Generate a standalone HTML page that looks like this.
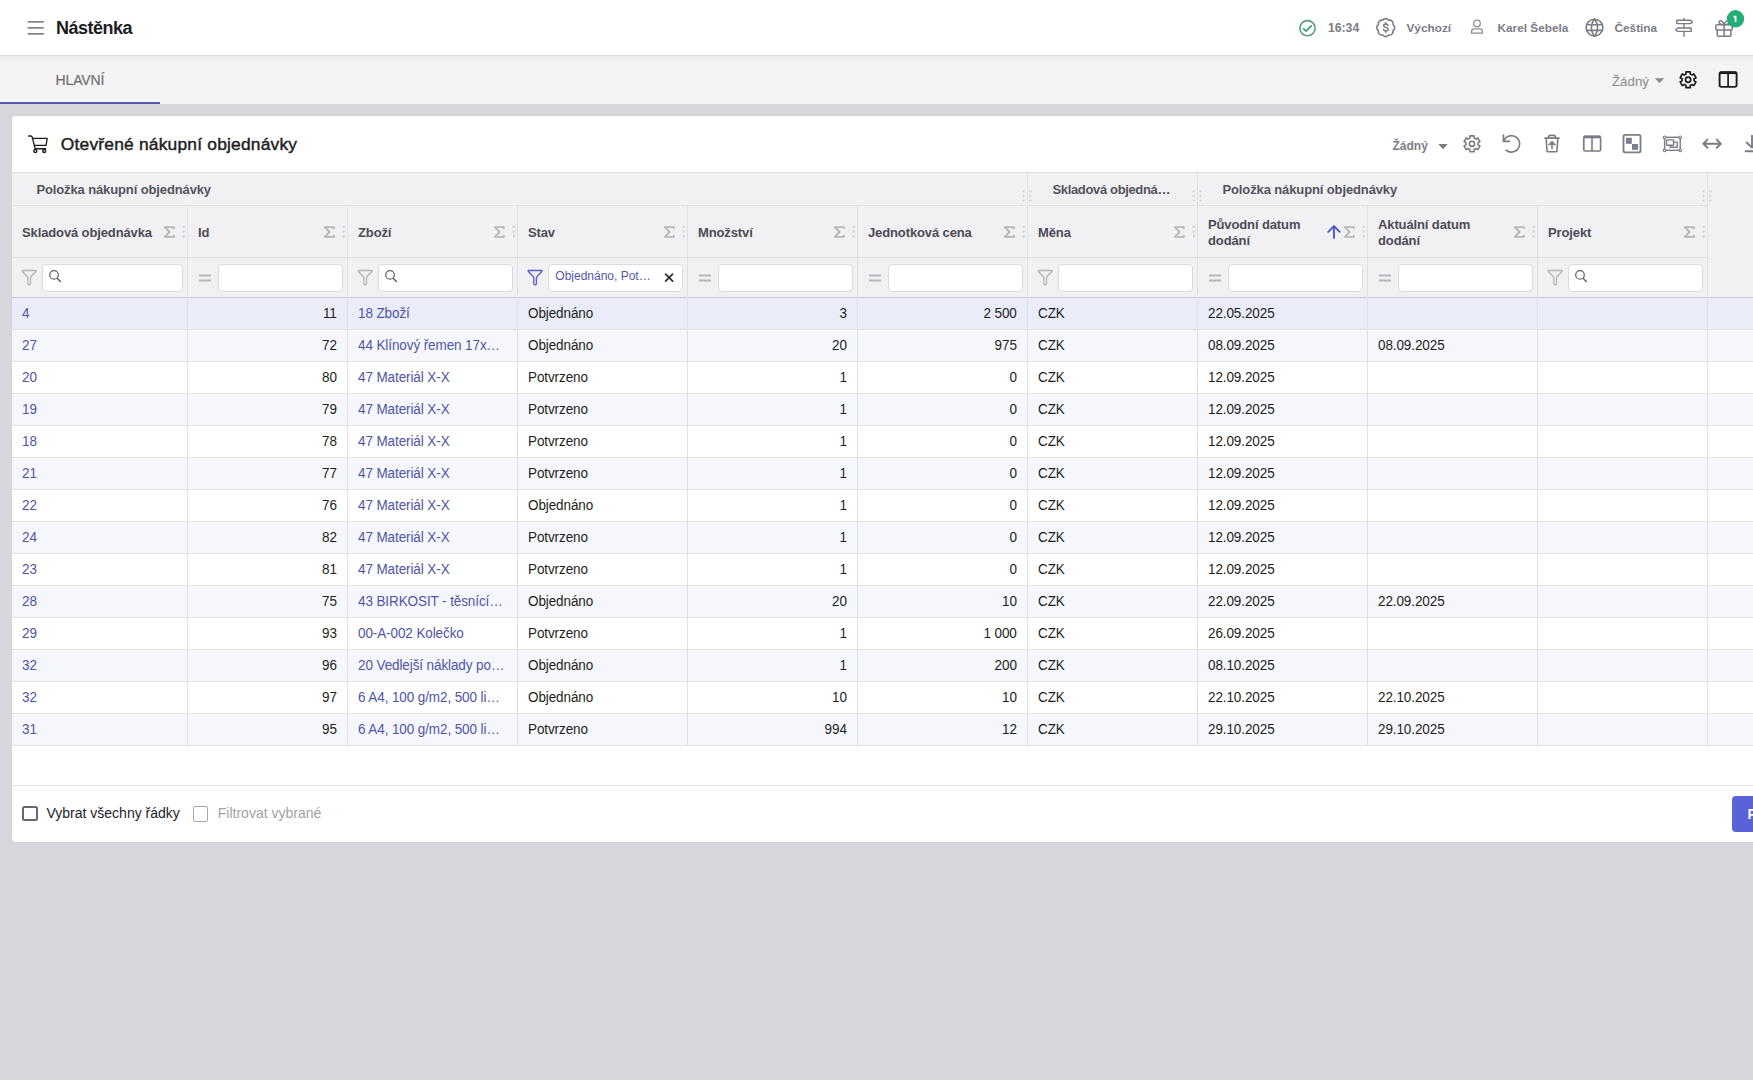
<!DOCTYPE html>
<html><head><meta charset="utf-8"><title>Nástěnka</title>
<style>
*{box-sizing:border-box;margin:0;padding:0}
html,body{width:1753px;height:1080px;overflow:hidden}
body{background:#d6d7dc;font-family:"Liberation Sans",sans-serif;position:relative}
.b{position:absolute}
.t{position:absolute;white-space:nowrap}
.inp{position:absolute;background:#fff;border:1px solid #dadae0;border-radius:4px}
svg{display:block}
</style></head><body>
<div class="b" style="left:0px;top:0px;width:1753px;height:55px;background:#ffffff;z-index:0"></div>
<div class="b" style="left:0px;top:55px;width:1753px;height:49px;background:#f4f4f4;"></div>
<div class="b" style="left:0px;top:55px;width:1753px;height:1px;background:#d8d8d8;"></div>
<div class="b" style="left:0px;top:56px;width:1753px;height:6px;background:linear-gradient(rgba(0,0,0,0.045),rgba(0,0,0,0));"></div>
<div class="b" style="left:0px;top:102px;width:160px;height:2px;background:#575aab;"></div>
<div class="b" style="left:12px;top:116px;width:1800px;height:726px;background:#fff;border-radius:4px;box-shadow:0 0 2px rgba(0,0,0,0.06)"></div>
<div class="b" style="left:12px;top:172px;width:1741px;height:125px;background:#f1f1f4;"></div>
<div class="b" style="left:12px;top:172px;width:1741px;height:1px;background:#dcdce1;"></div>
<div class="b" style="left:12px;top:205px;width:1695px;height:1px;background:#e0e0e5;"></div>
<div class="b" style="left:12px;top:257px;width:1695px;height:1px;background:#e0e0e5;"></div>
<div class="b" style="left:12px;top:297px;width:1741px;height:1px;background:#c9c9d0;"></div>
<div class="b" style="left:12px;top:298px;width:1741px;height:31px;background:#eaecf9;"></div>
<div class="b" style="left:12px;top:329px;width:1741px;height:1px;background:#e0e0e5;"></div>
<div class="b" style="left:12px;top:330px;width:1741px;height:31px;background:#f6f7fc;"></div>
<div class="b" style="left:12px;top:361px;width:1741px;height:1px;background:#e0e0e5;"></div>
<div class="b" style="left:12px;top:362px;width:1741px;height:31px;background:#ffffff;"></div>
<div class="b" style="left:12px;top:393px;width:1741px;height:1px;background:#e0e0e5;"></div>
<div class="b" style="left:12px;top:394px;width:1741px;height:31px;background:#f6f7fc;"></div>
<div class="b" style="left:12px;top:425px;width:1741px;height:1px;background:#e0e0e5;"></div>
<div class="b" style="left:12px;top:426px;width:1741px;height:31px;background:#ffffff;"></div>
<div class="b" style="left:12px;top:457px;width:1741px;height:1px;background:#e0e0e5;"></div>
<div class="b" style="left:12px;top:458px;width:1741px;height:31px;background:#f6f7fc;"></div>
<div class="b" style="left:12px;top:489px;width:1741px;height:1px;background:#e0e0e5;"></div>
<div class="b" style="left:12px;top:490px;width:1741px;height:31px;background:#ffffff;"></div>
<div class="b" style="left:12px;top:521px;width:1741px;height:1px;background:#e0e0e5;"></div>
<div class="b" style="left:12px;top:522px;width:1741px;height:31px;background:#f6f7fc;"></div>
<div class="b" style="left:12px;top:553px;width:1741px;height:1px;background:#e0e0e5;"></div>
<div class="b" style="left:12px;top:554px;width:1741px;height:31px;background:#ffffff;"></div>
<div class="b" style="left:12px;top:585px;width:1741px;height:1px;background:#e0e0e5;"></div>
<div class="b" style="left:12px;top:586px;width:1741px;height:31px;background:#f6f7fc;"></div>
<div class="b" style="left:12px;top:617px;width:1741px;height:1px;background:#e0e0e5;"></div>
<div class="b" style="left:12px;top:618px;width:1741px;height:31px;background:#ffffff;"></div>
<div class="b" style="left:12px;top:649px;width:1741px;height:1px;background:#e0e0e5;"></div>
<div class="b" style="left:12px;top:650px;width:1741px;height:31px;background:#f6f7fc;"></div>
<div class="b" style="left:12px;top:681px;width:1741px;height:1px;background:#e0e0e5;"></div>
<div class="b" style="left:12px;top:682px;width:1741px;height:31px;background:#ffffff;"></div>
<div class="b" style="left:12px;top:713px;width:1741px;height:1px;background:#e0e0e5;"></div>
<div class="b" style="left:12px;top:714px;width:1741px;height:31px;background:#f6f7fc;"></div>
<div class="b" style="left:12px;top:745px;width:1741px;height:1px;background:#e0e0e5;"></div>
<div class="b" style="left:1027px;top:173px;width:1px;height:572px;background:#e0e0e5;"></div>
<div class="b" style="left:1197px;top:173px;width:1px;height:572px;background:#e0e0e5;"></div>
<div class="b" style="left:1707px;top:173px;width:1px;height:572px;background:#e0e0e5;"></div>
<div class="b" style="left:187px;top:206px;width:1px;height:539px;background:#e0e0e5;"></div>
<div class="b" style="left:347px;top:206px;width:1px;height:539px;background:#e0e0e5;"></div>
<div class="b" style="left:517px;top:206px;width:1px;height:539px;background:#e0e0e5;"></div>
<div class="b" style="left:687px;top:206px;width:1px;height:539px;background:#e0e0e5;"></div>
<div class="b" style="left:857px;top:206px;width:1px;height:539px;background:#e0e0e5;"></div>
<div class="b" style="left:1367px;top:206px;width:1px;height:539px;background:#e0e0e5;"></div>
<div class="b" style="left:1537px;top:206px;width:1px;height:539px;background:#e0e0e5;"></div>
<div class="b" style="left:12px;top:785px;width:1741px;height:1px;background:#e4e4e8;"></div>
<div class="t " style="left:56.00px;top:18.66px;font-size:18px;line-height:18px;font-weight:bold;color:#1d1d1f;letter-spacing:-0.5px">Nástěnka</div>
<div class="t " style="left:1328.00px;top:22.37px;font-size:12.2px;line-height:12.2px;font-weight:bold;color:#7b7c85">16:34</div>
<div class="t " style="left:1406.50px;top:22.71px;font-size:11.8px;line-height:11.8px;font-weight:bold;color:#7b7c85">Výchozí</div>
<div class="t " style="left:1497.50px;top:22.71px;font-size:11.8px;line-height:11.8px;font-weight:bold;color:#7b7c85">Karel Šebela</div>
<div class="t " style="left:1614.50px;top:22.71px;font-size:11.8px;line-height:11.8px;font-weight:bold;color:#7b7c85">Čeština</div>
<div class="t " style="left:55.60px;top:72.75px;font-size:14px;line-height:14px;color:#707070;letter-spacing:-0.15px;-webkit-text-stroke:0.2px #707070">HLAVNÍ</div>
<div class="t " style="left:1612.00px;top:74.74px;font-size:13.3px;line-height:13.3px;color:#8a8a8c">Žádný</div>
<div class="t " style="left:60.80px;top:135.57px;font-size:17.4px;line-height:17.4px;color:#1f1f1f;letter-spacing:0.2px;-webkit-text-stroke:0.45px #1f1f1f">Otevřené nákupní objednávky</div>
<div class="t " style="left:1392.50px;top:139.94px;font-size:12px;line-height:12px;font-weight:bold;color:#7b7c85">Žádný</div>
<div class="t " style="left:36.40px;top:183.10px;font-size:13px;line-height:13px;font-weight:bold;color:#53535c;letter-spacing:-0.12px;transform:scaleY(1.05);transform-origin:0 11.00px">Položka nákupní objednávky</div>
<div class="t " style="left:1222.50px;top:183.10px;font-size:13px;line-height:13px;font-weight:bold;color:#53535c;letter-spacing:-0.12px;transform:scaleY(1.05);transform-origin:0 11.00px">Položka nákupní objednávky</div>
<div class="t " style="left:1052.50px;top:183.10px;font-size:13px;line-height:13px;font-weight:bold;color:#53535c;letter-spacing:-0.35px;transform:scaleY(1.05);transform-origin:0 11.00px">Skladová objedná…</div>
<div class="t " style="left:22.00px;top:225.70px;font-size:13px;line-height:13px;font-weight:bold;color:#4c4c55;letter-spacing:-0.12px;transform:scaleY(1.05);transform-origin:0 11.00px">Skladová objednávka</div>
<div class="t " style="left:198.00px;top:225.70px;font-size:13px;line-height:13px;font-weight:bold;color:#4c4c55;letter-spacing:-0.12px;transform:scaleY(1.05);transform-origin:0 11.00px">Id</div>
<div class="t " style="left:358.00px;top:225.70px;font-size:13px;line-height:13px;font-weight:bold;color:#4c4c55;letter-spacing:-0.12px;transform:scaleY(1.05);transform-origin:0 11.00px">Zboží</div>
<div class="t " style="left:528.00px;top:225.70px;font-size:13px;line-height:13px;font-weight:bold;color:#4c4c55;letter-spacing:-0.12px;transform:scaleY(1.05);transform-origin:0 11.00px">Stav</div>
<div class="t " style="left:698.00px;top:225.70px;font-size:13px;line-height:13px;font-weight:bold;color:#4c4c55;letter-spacing:-0.12px;transform:scaleY(1.05);transform-origin:0 11.00px">Množství</div>
<div class="t " style="left:868.00px;top:225.70px;font-size:13px;line-height:13px;font-weight:bold;color:#4c4c55;letter-spacing:-0.12px;transform:scaleY(1.05);transform-origin:0 11.00px">Jednotková cena</div>
<div class="t " style="left:1038.00px;top:225.70px;font-size:13px;line-height:13px;font-weight:bold;color:#4c4c55;letter-spacing:-0.12px;transform:scaleY(1.05);transform-origin:0 11.00px">Měna</div>
<div class="t " style="left:1208.00px;top:217.50px;font-size:13px;line-height:13px;font-weight:bold;color:#4c4c55;letter-spacing:-0.12px;transform:scaleY(1.05);transform-origin:0 11.00px">Původní datum</div>
<div class="t " style="left:1208.00px;top:233.50px;font-size:13px;line-height:13px;font-weight:bold;color:#4c4c55;letter-spacing:-0.12px;transform:scaleY(1.05);transform-origin:0 11.00px">dodání</div>
<div class="t " style="left:1378.00px;top:217.50px;font-size:13px;line-height:13px;font-weight:bold;color:#4c4c55;letter-spacing:-0.12px;transform:scaleY(1.05);transform-origin:0 11.00px">Aktuální datum</div>
<div class="t " style="left:1378.00px;top:233.50px;font-size:13px;line-height:13px;font-weight:bold;color:#4c4c55;letter-spacing:-0.12px;transform:scaleY(1.05);transform-origin:0 11.00px">dodání</div>
<div class="t " style="left:1548.00px;top:225.70px;font-size:13px;line-height:13px;font-weight:bold;color:#4c4c55;letter-spacing:-0.12px;transform:scaleY(1.05);transform-origin:0 11.00px">Projekt</div>
<div class="inp" style="left:42px;top:264px;width:141px;height:28px"></div>
<div class="inp" style="left:218px;top:264px;width:125px;height:28px"></div>
<div class="inp" style="left:378px;top:264px;width:135px;height:28px"></div>
<div class="inp" style="left:548px;top:264px;width:135px;height:28px"></div>
<div class="t " style="left:555.30px;top:270.44px;font-size:12px;line-height:12px;color:#5358b0;width:96.0px;overflow:hidden;text-overflow:ellipsis">Objednáno, Potvrzeno</div>
<div class="inp" style="left:718px;top:264px;width:135px;height:28px"></div>
<div class="inp" style="left:888px;top:264px;width:135px;height:28px"></div>
<div class="inp" style="left:1058px;top:264px;width:135px;height:28px"></div>
<div class="inp" style="left:1228px;top:264px;width:135px;height:28px"></div>
<div class="inp" style="left:1398px;top:264px;width:135px;height:28px"></div>
<div class="inp" style="left:1568px;top:264px;width:135px;height:28px"></div>
<div class="t " style="left:22.00px;top:306.77px;font-size:13.5px;line-height:13.5px;color:#4e55a6;letter-spacing:-0.1px;transform:scaleY(1.07);transform-origin:0 11.43px">4</div>
<div class="t " style="left:186.80px;top:306.77px;width:150.00px;text-align:right;font-size:13.5px;line-height:13.5px;color:#1e1e20;letter-spacing:-0.1px;transform:scaleY(1.07);transform-origin:0 11.43px">11</div>
<div class="t " style="left:358.00px;top:306.77px;font-size:13.5px;line-height:13.5px;color:#4e55a6;letter-spacing:-0.1px;width:148.0px;overflow:hidden;text-overflow:ellipsis;transform:scaleY(1.07);transform-origin:0 11.43px">18 Zboží</div>
<div class="t " style="left:528.00px;top:306.77px;font-size:13.5px;line-height:13.5px;color:#1e1e20;letter-spacing:-0.1px;transform:scaleY(1.07);transform-origin:0 11.43px">Objednáno</div>
<div class="t " style="left:696.80px;top:306.77px;width:150.00px;text-align:right;font-size:13.5px;line-height:13.5px;color:#1e1e20;letter-spacing:-0.1px;transform:scaleY(1.07);transform-origin:0 11.43px">3</div>
<div class="t " style="left:866.80px;top:306.77px;width:150.00px;text-align:right;font-size:13.5px;line-height:13.5px;color:#1e1e20;letter-spacing:-0.1px;transform:scaleY(1.07);transform-origin:0 11.43px">2 500</div>
<div class="t " style="left:1038.00px;top:306.77px;font-size:13.5px;line-height:13.5px;color:#1e1e20;letter-spacing:-0.1px;transform:scaleY(1.07);transform-origin:0 11.43px">CZK</div>
<div class="t " style="left:1208.00px;top:306.77px;font-size:13.5px;line-height:13.5px;color:#1e1e20;letter-spacing:-0.1px;transform:scaleY(1.07);transform-origin:0 11.43px">22.05.2025</div>
<div class="t " style="left:22.00px;top:338.77px;font-size:13.5px;line-height:13.5px;color:#4e55a6;letter-spacing:-0.1px;transform:scaleY(1.07);transform-origin:0 11.43px">27</div>
<div class="t " style="left:186.80px;top:338.77px;width:150.00px;text-align:right;font-size:13.5px;line-height:13.5px;color:#1e1e20;letter-spacing:-0.1px;transform:scaleY(1.07);transform-origin:0 11.43px">72</div>
<div class="t " style="left:358.00px;top:338.77px;font-size:13.5px;line-height:13.5px;color:#4e55a6;letter-spacing:-0.1px;width:148.0px;overflow:hidden;text-overflow:ellipsis;transform:scaleY(1.07);transform-origin:0 11.43px">44 Klínový řemen 17x1000 Li</div>
<div class="t " style="left:528.00px;top:338.77px;font-size:13.5px;line-height:13.5px;color:#1e1e20;letter-spacing:-0.1px;transform:scaleY(1.07);transform-origin:0 11.43px">Objednáno</div>
<div class="t " style="left:696.80px;top:338.77px;width:150.00px;text-align:right;font-size:13.5px;line-height:13.5px;color:#1e1e20;letter-spacing:-0.1px;transform:scaleY(1.07);transform-origin:0 11.43px">20</div>
<div class="t " style="left:866.80px;top:338.77px;width:150.00px;text-align:right;font-size:13.5px;line-height:13.5px;color:#1e1e20;letter-spacing:-0.1px;transform:scaleY(1.07);transform-origin:0 11.43px">975</div>
<div class="t " style="left:1038.00px;top:338.77px;font-size:13.5px;line-height:13.5px;color:#1e1e20;letter-spacing:-0.1px;transform:scaleY(1.07);transform-origin:0 11.43px">CZK</div>
<div class="t " style="left:1208.00px;top:338.77px;font-size:13.5px;line-height:13.5px;color:#1e1e20;letter-spacing:-0.1px;transform:scaleY(1.07);transform-origin:0 11.43px">08.09.2025</div>
<div class="t " style="left:1378.00px;top:338.77px;font-size:13.5px;line-height:13.5px;color:#1e1e20;letter-spacing:-0.1px;transform:scaleY(1.07);transform-origin:0 11.43px">08.09.2025</div>
<div class="t " style="left:22.00px;top:370.77px;font-size:13.5px;line-height:13.5px;color:#4e55a6;letter-spacing:-0.1px;transform:scaleY(1.07);transform-origin:0 11.43px">20</div>
<div class="t " style="left:186.80px;top:370.77px;width:150.00px;text-align:right;font-size:13.5px;line-height:13.5px;color:#1e1e20;letter-spacing:-0.1px;transform:scaleY(1.07);transform-origin:0 11.43px">80</div>
<div class="t " style="left:358.00px;top:370.77px;font-size:13.5px;line-height:13.5px;color:#4e55a6;letter-spacing:-0.1px;width:148.0px;overflow:hidden;text-overflow:ellipsis;transform:scaleY(1.07);transform-origin:0 11.43px">47 Materiál X-X</div>
<div class="t " style="left:528.00px;top:370.77px;font-size:13.5px;line-height:13.5px;color:#1e1e20;letter-spacing:-0.1px;transform:scaleY(1.07);transform-origin:0 11.43px">Potvrzeno</div>
<div class="t " style="left:696.80px;top:370.77px;width:150.00px;text-align:right;font-size:13.5px;line-height:13.5px;color:#1e1e20;letter-spacing:-0.1px;transform:scaleY(1.07);transform-origin:0 11.43px">1</div>
<div class="t " style="left:866.80px;top:370.77px;width:150.00px;text-align:right;font-size:13.5px;line-height:13.5px;color:#1e1e20;letter-spacing:-0.1px;transform:scaleY(1.07);transform-origin:0 11.43px">0</div>
<div class="t " style="left:1038.00px;top:370.77px;font-size:13.5px;line-height:13.5px;color:#1e1e20;letter-spacing:-0.1px;transform:scaleY(1.07);transform-origin:0 11.43px">CZK</div>
<div class="t " style="left:1208.00px;top:370.77px;font-size:13.5px;line-height:13.5px;color:#1e1e20;letter-spacing:-0.1px;transform:scaleY(1.07);transform-origin:0 11.43px">12.09.2025</div>
<div class="t " style="left:22.00px;top:402.77px;font-size:13.5px;line-height:13.5px;color:#4e55a6;letter-spacing:-0.1px;transform:scaleY(1.07);transform-origin:0 11.43px">19</div>
<div class="t " style="left:186.80px;top:402.77px;width:150.00px;text-align:right;font-size:13.5px;line-height:13.5px;color:#1e1e20;letter-spacing:-0.1px;transform:scaleY(1.07);transform-origin:0 11.43px">79</div>
<div class="t " style="left:358.00px;top:402.77px;font-size:13.5px;line-height:13.5px;color:#4e55a6;letter-spacing:-0.1px;width:148.0px;overflow:hidden;text-overflow:ellipsis;transform:scaleY(1.07);transform-origin:0 11.43px">47 Materiál X-X</div>
<div class="t " style="left:528.00px;top:402.77px;font-size:13.5px;line-height:13.5px;color:#1e1e20;letter-spacing:-0.1px;transform:scaleY(1.07);transform-origin:0 11.43px">Potvrzeno</div>
<div class="t " style="left:696.80px;top:402.77px;width:150.00px;text-align:right;font-size:13.5px;line-height:13.5px;color:#1e1e20;letter-spacing:-0.1px;transform:scaleY(1.07);transform-origin:0 11.43px">1</div>
<div class="t " style="left:866.80px;top:402.77px;width:150.00px;text-align:right;font-size:13.5px;line-height:13.5px;color:#1e1e20;letter-spacing:-0.1px;transform:scaleY(1.07);transform-origin:0 11.43px">0</div>
<div class="t " style="left:1038.00px;top:402.77px;font-size:13.5px;line-height:13.5px;color:#1e1e20;letter-spacing:-0.1px;transform:scaleY(1.07);transform-origin:0 11.43px">CZK</div>
<div class="t " style="left:1208.00px;top:402.77px;font-size:13.5px;line-height:13.5px;color:#1e1e20;letter-spacing:-0.1px;transform:scaleY(1.07);transform-origin:0 11.43px">12.09.2025</div>
<div class="t " style="left:22.00px;top:434.77px;font-size:13.5px;line-height:13.5px;color:#4e55a6;letter-spacing:-0.1px;transform:scaleY(1.07);transform-origin:0 11.43px">18</div>
<div class="t " style="left:186.80px;top:434.77px;width:150.00px;text-align:right;font-size:13.5px;line-height:13.5px;color:#1e1e20;letter-spacing:-0.1px;transform:scaleY(1.07);transform-origin:0 11.43px">78</div>
<div class="t " style="left:358.00px;top:434.77px;font-size:13.5px;line-height:13.5px;color:#4e55a6;letter-spacing:-0.1px;width:148.0px;overflow:hidden;text-overflow:ellipsis;transform:scaleY(1.07);transform-origin:0 11.43px">47 Materiál X-X</div>
<div class="t " style="left:528.00px;top:434.77px;font-size:13.5px;line-height:13.5px;color:#1e1e20;letter-spacing:-0.1px;transform:scaleY(1.07);transform-origin:0 11.43px">Potvrzeno</div>
<div class="t " style="left:696.80px;top:434.77px;width:150.00px;text-align:right;font-size:13.5px;line-height:13.5px;color:#1e1e20;letter-spacing:-0.1px;transform:scaleY(1.07);transform-origin:0 11.43px">1</div>
<div class="t " style="left:866.80px;top:434.77px;width:150.00px;text-align:right;font-size:13.5px;line-height:13.5px;color:#1e1e20;letter-spacing:-0.1px;transform:scaleY(1.07);transform-origin:0 11.43px">0</div>
<div class="t " style="left:1038.00px;top:434.77px;font-size:13.5px;line-height:13.5px;color:#1e1e20;letter-spacing:-0.1px;transform:scaleY(1.07);transform-origin:0 11.43px">CZK</div>
<div class="t " style="left:1208.00px;top:434.77px;font-size:13.5px;line-height:13.5px;color:#1e1e20;letter-spacing:-0.1px;transform:scaleY(1.07);transform-origin:0 11.43px">12.09.2025</div>
<div class="t " style="left:22.00px;top:466.77px;font-size:13.5px;line-height:13.5px;color:#4e55a6;letter-spacing:-0.1px;transform:scaleY(1.07);transform-origin:0 11.43px">21</div>
<div class="t " style="left:186.80px;top:466.77px;width:150.00px;text-align:right;font-size:13.5px;line-height:13.5px;color:#1e1e20;letter-spacing:-0.1px;transform:scaleY(1.07);transform-origin:0 11.43px">77</div>
<div class="t " style="left:358.00px;top:466.77px;font-size:13.5px;line-height:13.5px;color:#4e55a6;letter-spacing:-0.1px;width:148.0px;overflow:hidden;text-overflow:ellipsis;transform:scaleY(1.07);transform-origin:0 11.43px">47 Materiál X-X</div>
<div class="t " style="left:528.00px;top:466.77px;font-size:13.5px;line-height:13.5px;color:#1e1e20;letter-spacing:-0.1px;transform:scaleY(1.07);transform-origin:0 11.43px">Potvrzeno</div>
<div class="t " style="left:696.80px;top:466.77px;width:150.00px;text-align:right;font-size:13.5px;line-height:13.5px;color:#1e1e20;letter-spacing:-0.1px;transform:scaleY(1.07);transform-origin:0 11.43px">1</div>
<div class="t " style="left:866.80px;top:466.77px;width:150.00px;text-align:right;font-size:13.5px;line-height:13.5px;color:#1e1e20;letter-spacing:-0.1px;transform:scaleY(1.07);transform-origin:0 11.43px">0</div>
<div class="t " style="left:1038.00px;top:466.77px;font-size:13.5px;line-height:13.5px;color:#1e1e20;letter-spacing:-0.1px;transform:scaleY(1.07);transform-origin:0 11.43px">CZK</div>
<div class="t " style="left:1208.00px;top:466.77px;font-size:13.5px;line-height:13.5px;color:#1e1e20;letter-spacing:-0.1px;transform:scaleY(1.07);transform-origin:0 11.43px">12.09.2025</div>
<div class="t " style="left:22.00px;top:498.77px;font-size:13.5px;line-height:13.5px;color:#4e55a6;letter-spacing:-0.1px;transform:scaleY(1.07);transform-origin:0 11.43px">22</div>
<div class="t " style="left:186.80px;top:498.77px;width:150.00px;text-align:right;font-size:13.5px;line-height:13.5px;color:#1e1e20;letter-spacing:-0.1px;transform:scaleY(1.07);transform-origin:0 11.43px">76</div>
<div class="t " style="left:358.00px;top:498.77px;font-size:13.5px;line-height:13.5px;color:#4e55a6;letter-spacing:-0.1px;width:148.0px;overflow:hidden;text-overflow:ellipsis;transform:scaleY(1.07);transform-origin:0 11.43px">47 Materiál X-X</div>
<div class="t " style="left:528.00px;top:498.77px;font-size:13.5px;line-height:13.5px;color:#1e1e20;letter-spacing:-0.1px;transform:scaleY(1.07);transform-origin:0 11.43px">Objednáno</div>
<div class="t " style="left:696.80px;top:498.77px;width:150.00px;text-align:right;font-size:13.5px;line-height:13.5px;color:#1e1e20;letter-spacing:-0.1px;transform:scaleY(1.07);transform-origin:0 11.43px">1</div>
<div class="t " style="left:866.80px;top:498.77px;width:150.00px;text-align:right;font-size:13.5px;line-height:13.5px;color:#1e1e20;letter-spacing:-0.1px;transform:scaleY(1.07);transform-origin:0 11.43px">0</div>
<div class="t " style="left:1038.00px;top:498.77px;font-size:13.5px;line-height:13.5px;color:#1e1e20;letter-spacing:-0.1px;transform:scaleY(1.07);transform-origin:0 11.43px">CZK</div>
<div class="t " style="left:1208.00px;top:498.77px;font-size:13.5px;line-height:13.5px;color:#1e1e20;letter-spacing:-0.1px;transform:scaleY(1.07);transform-origin:0 11.43px">12.09.2025</div>
<div class="t " style="left:22.00px;top:530.77px;font-size:13.5px;line-height:13.5px;color:#4e55a6;letter-spacing:-0.1px;transform:scaleY(1.07);transform-origin:0 11.43px">24</div>
<div class="t " style="left:186.80px;top:530.77px;width:150.00px;text-align:right;font-size:13.5px;line-height:13.5px;color:#1e1e20;letter-spacing:-0.1px;transform:scaleY(1.07);transform-origin:0 11.43px">82</div>
<div class="t " style="left:358.00px;top:530.77px;font-size:13.5px;line-height:13.5px;color:#4e55a6;letter-spacing:-0.1px;width:148.0px;overflow:hidden;text-overflow:ellipsis;transform:scaleY(1.07);transform-origin:0 11.43px">47 Materiál X-X</div>
<div class="t " style="left:528.00px;top:530.77px;font-size:13.5px;line-height:13.5px;color:#1e1e20;letter-spacing:-0.1px;transform:scaleY(1.07);transform-origin:0 11.43px">Potvrzeno</div>
<div class="t " style="left:696.80px;top:530.77px;width:150.00px;text-align:right;font-size:13.5px;line-height:13.5px;color:#1e1e20;letter-spacing:-0.1px;transform:scaleY(1.07);transform-origin:0 11.43px">1</div>
<div class="t " style="left:866.80px;top:530.77px;width:150.00px;text-align:right;font-size:13.5px;line-height:13.5px;color:#1e1e20;letter-spacing:-0.1px;transform:scaleY(1.07);transform-origin:0 11.43px">0</div>
<div class="t " style="left:1038.00px;top:530.77px;font-size:13.5px;line-height:13.5px;color:#1e1e20;letter-spacing:-0.1px;transform:scaleY(1.07);transform-origin:0 11.43px">CZK</div>
<div class="t " style="left:1208.00px;top:530.77px;font-size:13.5px;line-height:13.5px;color:#1e1e20;letter-spacing:-0.1px;transform:scaleY(1.07);transform-origin:0 11.43px">12.09.2025</div>
<div class="t " style="left:22.00px;top:562.77px;font-size:13.5px;line-height:13.5px;color:#4e55a6;letter-spacing:-0.1px;transform:scaleY(1.07);transform-origin:0 11.43px">23</div>
<div class="t " style="left:186.80px;top:562.77px;width:150.00px;text-align:right;font-size:13.5px;line-height:13.5px;color:#1e1e20;letter-spacing:-0.1px;transform:scaleY(1.07);transform-origin:0 11.43px">81</div>
<div class="t " style="left:358.00px;top:562.77px;font-size:13.5px;line-height:13.5px;color:#4e55a6;letter-spacing:-0.1px;width:148.0px;overflow:hidden;text-overflow:ellipsis;transform:scaleY(1.07);transform-origin:0 11.43px">47 Materiál X-X</div>
<div class="t " style="left:528.00px;top:562.77px;font-size:13.5px;line-height:13.5px;color:#1e1e20;letter-spacing:-0.1px;transform:scaleY(1.07);transform-origin:0 11.43px">Potvrzeno</div>
<div class="t " style="left:696.80px;top:562.77px;width:150.00px;text-align:right;font-size:13.5px;line-height:13.5px;color:#1e1e20;letter-spacing:-0.1px;transform:scaleY(1.07);transform-origin:0 11.43px">1</div>
<div class="t " style="left:866.80px;top:562.77px;width:150.00px;text-align:right;font-size:13.5px;line-height:13.5px;color:#1e1e20;letter-spacing:-0.1px;transform:scaleY(1.07);transform-origin:0 11.43px">0</div>
<div class="t " style="left:1038.00px;top:562.77px;font-size:13.5px;line-height:13.5px;color:#1e1e20;letter-spacing:-0.1px;transform:scaleY(1.07);transform-origin:0 11.43px">CZK</div>
<div class="t " style="left:1208.00px;top:562.77px;font-size:13.5px;line-height:13.5px;color:#1e1e20;letter-spacing:-0.1px;transform:scaleY(1.07);transform-origin:0 11.43px">12.09.2025</div>
<div class="t " style="left:22.00px;top:594.77px;font-size:13.5px;line-height:13.5px;color:#4e55a6;letter-spacing:-0.1px;transform:scaleY(1.07);transform-origin:0 11.43px">28</div>
<div class="t " style="left:186.80px;top:594.77px;width:150.00px;text-align:right;font-size:13.5px;line-height:13.5px;color:#1e1e20;letter-spacing:-0.1px;transform:scaleY(1.07);transform-origin:0 11.43px">75</div>
<div class="t " style="left:358.00px;top:594.77px;font-size:13.5px;line-height:13.5px;color:#4e55a6;letter-spacing:-0.1px;width:148.0px;overflow:hidden;text-overflow:ellipsis;transform:scaleY(1.07);transform-origin:0 11.43px">43 BIRKOSIT - těsnící tmel</div>
<div class="t " style="left:528.00px;top:594.77px;font-size:13.5px;line-height:13.5px;color:#1e1e20;letter-spacing:-0.1px;transform:scaleY(1.07);transform-origin:0 11.43px">Objednáno</div>
<div class="t " style="left:696.80px;top:594.77px;width:150.00px;text-align:right;font-size:13.5px;line-height:13.5px;color:#1e1e20;letter-spacing:-0.1px;transform:scaleY(1.07);transform-origin:0 11.43px">20</div>
<div class="t " style="left:866.80px;top:594.77px;width:150.00px;text-align:right;font-size:13.5px;line-height:13.5px;color:#1e1e20;letter-spacing:-0.1px;transform:scaleY(1.07);transform-origin:0 11.43px">10</div>
<div class="t " style="left:1038.00px;top:594.77px;font-size:13.5px;line-height:13.5px;color:#1e1e20;letter-spacing:-0.1px;transform:scaleY(1.07);transform-origin:0 11.43px">CZK</div>
<div class="t " style="left:1208.00px;top:594.77px;font-size:13.5px;line-height:13.5px;color:#1e1e20;letter-spacing:-0.1px;transform:scaleY(1.07);transform-origin:0 11.43px">22.09.2025</div>
<div class="t " style="left:1378.00px;top:594.77px;font-size:13.5px;line-height:13.5px;color:#1e1e20;letter-spacing:-0.1px;transform:scaleY(1.07);transform-origin:0 11.43px">22.09.2025</div>
<div class="t " style="left:22.00px;top:626.77px;font-size:13.5px;line-height:13.5px;color:#4e55a6;letter-spacing:-0.1px;transform:scaleY(1.07);transform-origin:0 11.43px">29</div>
<div class="t " style="left:186.80px;top:626.77px;width:150.00px;text-align:right;font-size:13.5px;line-height:13.5px;color:#1e1e20;letter-spacing:-0.1px;transform:scaleY(1.07);transform-origin:0 11.43px">93</div>
<div class="t " style="left:358.00px;top:626.77px;font-size:13.5px;line-height:13.5px;color:#4e55a6;letter-spacing:-0.1px;width:148.0px;overflow:hidden;text-overflow:ellipsis;transform:scaleY(1.07);transform-origin:0 11.43px">00-A-002 Kolečko</div>
<div class="t " style="left:528.00px;top:626.77px;font-size:13.5px;line-height:13.5px;color:#1e1e20;letter-spacing:-0.1px;transform:scaleY(1.07);transform-origin:0 11.43px">Potvrzeno</div>
<div class="t " style="left:696.80px;top:626.77px;width:150.00px;text-align:right;font-size:13.5px;line-height:13.5px;color:#1e1e20;letter-spacing:-0.1px;transform:scaleY(1.07);transform-origin:0 11.43px">1</div>
<div class="t " style="left:866.80px;top:626.77px;width:150.00px;text-align:right;font-size:13.5px;line-height:13.5px;color:#1e1e20;letter-spacing:-0.1px;transform:scaleY(1.07);transform-origin:0 11.43px">1 000</div>
<div class="t " style="left:1038.00px;top:626.77px;font-size:13.5px;line-height:13.5px;color:#1e1e20;letter-spacing:-0.1px;transform:scaleY(1.07);transform-origin:0 11.43px">CZK</div>
<div class="t " style="left:1208.00px;top:626.77px;font-size:13.5px;line-height:13.5px;color:#1e1e20;letter-spacing:-0.1px;transform:scaleY(1.07);transform-origin:0 11.43px">26.09.2025</div>
<div class="t " style="left:22.00px;top:658.77px;font-size:13.5px;line-height:13.5px;color:#4e55a6;letter-spacing:-0.1px;transform:scaleY(1.07);transform-origin:0 11.43px">32</div>
<div class="t " style="left:186.80px;top:658.77px;width:150.00px;text-align:right;font-size:13.5px;line-height:13.5px;color:#1e1e20;letter-spacing:-0.1px;transform:scaleY(1.07);transform-origin:0 11.43px">96</div>
<div class="t " style="left:358.00px;top:658.77px;font-size:13.5px;line-height:13.5px;color:#4e55a6;letter-spacing:-0.1px;width:148.0px;overflow:hidden;text-overflow:ellipsis;transform:scaleY(1.07);transform-origin:0 11.43px">20 Vedlejší náklady pořízení</div>
<div class="t " style="left:528.00px;top:658.77px;font-size:13.5px;line-height:13.5px;color:#1e1e20;letter-spacing:-0.1px;transform:scaleY(1.07);transform-origin:0 11.43px">Objednáno</div>
<div class="t " style="left:696.80px;top:658.77px;width:150.00px;text-align:right;font-size:13.5px;line-height:13.5px;color:#1e1e20;letter-spacing:-0.1px;transform:scaleY(1.07);transform-origin:0 11.43px">1</div>
<div class="t " style="left:866.80px;top:658.77px;width:150.00px;text-align:right;font-size:13.5px;line-height:13.5px;color:#1e1e20;letter-spacing:-0.1px;transform:scaleY(1.07);transform-origin:0 11.43px">200</div>
<div class="t " style="left:1038.00px;top:658.77px;font-size:13.5px;line-height:13.5px;color:#1e1e20;letter-spacing:-0.1px;transform:scaleY(1.07);transform-origin:0 11.43px">CZK</div>
<div class="t " style="left:1208.00px;top:658.77px;font-size:13.5px;line-height:13.5px;color:#1e1e20;letter-spacing:-0.1px;transform:scaleY(1.07);transform-origin:0 11.43px">08.10.2025</div>
<div class="t " style="left:22.00px;top:690.77px;font-size:13.5px;line-height:13.5px;color:#4e55a6;letter-spacing:-0.1px;transform:scaleY(1.07);transform-origin:0 11.43px">32</div>
<div class="t " style="left:186.80px;top:690.77px;width:150.00px;text-align:right;font-size:13.5px;line-height:13.5px;color:#1e1e20;letter-spacing:-0.1px;transform:scaleY(1.07);transform-origin:0 11.43px">97</div>
<div class="t " style="left:358.00px;top:690.77px;font-size:13.5px;line-height:13.5px;color:#4e55a6;letter-spacing:-0.1px;width:148.0px;overflow:hidden;text-overflow:ellipsis;transform:scaleY(1.07);transform-origin:0 11.43px">6 A4, 100 g/m2, 500 listů, bílý</div>
<div class="t " style="left:528.00px;top:690.77px;font-size:13.5px;line-height:13.5px;color:#1e1e20;letter-spacing:-0.1px;transform:scaleY(1.07);transform-origin:0 11.43px">Objednáno</div>
<div class="t " style="left:696.80px;top:690.77px;width:150.00px;text-align:right;font-size:13.5px;line-height:13.5px;color:#1e1e20;letter-spacing:-0.1px;transform:scaleY(1.07);transform-origin:0 11.43px">10</div>
<div class="t " style="left:866.80px;top:690.77px;width:150.00px;text-align:right;font-size:13.5px;line-height:13.5px;color:#1e1e20;letter-spacing:-0.1px;transform:scaleY(1.07);transform-origin:0 11.43px">10</div>
<div class="t " style="left:1038.00px;top:690.77px;font-size:13.5px;line-height:13.5px;color:#1e1e20;letter-spacing:-0.1px;transform:scaleY(1.07);transform-origin:0 11.43px">CZK</div>
<div class="t " style="left:1208.00px;top:690.77px;font-size:13.5px;line-height:13.5px;color:#1e1e20;letter-spacing:-0.1px;transform:scaleY(1.07);transform-origin:0 11.43px">22.10.2025</div>
<div class="t " style="left:1378.00px;top:690.77px;font-size:13.5px;line-height:13.5px;color:#1e1e20;letter-spacing:-0.1px;transform:scaleY(1.07);transform-origin:0 11.43px">22.10.2025</div>
<div class="t " style="left:22.00px;top:722.77px;font-size:13.5px;line-height:13.5px;color:#4e55a6;letter-spacing:-0.1px;transform:scaleY(1.07);transform-origin:0 11.43px">31</div>
<div class="t " style="left:186.80px;top:722.77px;width:150.00px;text-align:right;font-size:13.5px;line-height:13.5px;color:#1e1e20;letter-spacing:-0.1px;transform:scaleY(1.07);transform-origin:0 11.43px">95</div>
<div class="t " style="left:358.00px;top:722.77px;font-size:13.5px;line-height:13.5px;color:#4e55a6;letter-spacing:-0.1px;width:148.0px;overflow:hidden;text-overflow:ellipsis;transform:scaleY(1.07);transform-origin:0 11.43px">6 A4, 100 g/m2, 500 listů, bílý</div>
<div class="t " style="left:528.00px;top:722.77px;font-size:13.5px;line-height:13.5px;color:#1e1e20;letter-spacing:-0.1px;transform:scaleY(1.07);transform-origin:0 11.43px">Potvrzeno</div>
<div class="t " style="left:696.80px;top:722.77px;width:150.00px;text-align:right;font-size:13.5px;line-height:13.5px;color:#1e1e20;letter-spacing:-0.1px;transform:scaleY(1.07);transform-origin:0 11.43px">994</div>
<div class="t " style="left:866.80px;top:722.77px;width:150.00px;text-align:right;font-size:13.5px;line-height:13.5px;color:#1e1e20;letter-spacing:-0.1px;transform:scaleY(1.07);transform-origin:0 11.43px">12</div>
<div class="t " style="left:1038.00px;top:722.77px;font-size:13.5px;line-height:13.5px;color:#1e1e20;letter-spacing:-0.1px;transform:scaleY(1.07);transform-origin:0 11.43px">CZK</div>
<div class="t " style="left:1208.00px;top:722.77px;font-size:13.5px;line-height:13.5px;color:#1e1e20;letter-spacing:-0.1px;transform:scaleY(1.07);transform-origin:0 11.43px">29.10.2025</div>
<div class="t " style="left:1378.00px;top:722.77px;font-size:13.5px;line-height:13.5px;color:#1e1e20;letter-spacing:-0.1px;transform:scaleY(1.07);transform-origin:0 11.43px">29.10.2025</div>
<div class="b" style="left:22.3px;top:806.3px;width:15.4px;height:15.2px;border:2px solid #686868;border-radius:2.5px"></div>
<div class="t " style="left:46.50px;top:805.95px;font-size:14px;line-height:14px;color:#1d1d1f">Vybrat všechny řádky</div>
<div class="b" style="left:193.3px;top:806.2px;width:15.2px;height:15.4px;border:1.6px solid #a9a9a9;border-radius:2px"></div>
<div class="t " style="left:217.80px;top:805.75px;font-size:14px;line-height:14px;color:#a2a2a4">Filtrovat vybrané</div>
<div class="b" style="left:1732px;top:796px;width:60px;height:36px;background:#5a62d9;border-radius:4px"></div>
<div class="t " style="left:1747.50px;top:806.65px;font-size:14px;line-height:14px;font-weight:bold;color:#fff">P</div>
<svg style="position:absolute;left:0;top:0" width="1753" height="1080" viewBox="0 0 1753 1080">
<path d="M28.4 21.8H43.1" stroke="#858589" stroke-width="1.8" stroke-linecap="round"/>
<path d="M28.4 27.9H43.1" stroke="#858589" stroke-width="1.8" stroke-linecap="round"/>
<path d="M28.4 33.8H43.1" stroke="#858589" stroke-width="1.8" stroke-linecap="round"/>
<circle cx="1307.5" cy="28.2" r="7.6" fill="none" stroke="#5a9b83" stroke-width="1.6"/>
<path d="M1303.6 28.9L1306 31.2L1311.3 25.9" fill="none" stroke="#3d9c77" stroke-width="1.7" stroke-linecap="round" stroke-linejoin="round"/>
<g transform="translate(1385.7 27.6) scale(0.9) translate(-12 -12)" fill="none" stroke="#7b7c85" stroke-width="1.75" stroke-linecap="round" stroke-linejoin="round"><path d="M3.85 8.62a4 4 0 0 1 4.78-4.77 4 4 0 0 1 6.74 0 4 4 0 0 1 4.78 4.78 4 4 0 0 1 0 6.74 4 4 0 0 1-4.77 4.78 4 4 0 0 1-6.75 0 4 4 0 0 1-4.78-4.77 4 4 0 0 1 0-6.76Z"/><path d="M14.6 9.6c-.3-.9-1.3-1.5-2.5-1.5-1.4 0-2.4.8-2.4 1.9 0 2.4 5 1.3 5 3.9 0 1.1-1.1 1.9-2.6 1.9-1.2 0-2.2-.6-2.5-1.6M12 6.6v1.5M12 15.7v1.5"/></g>
<circle cx="1477" cy="23.4" r="3.3" fill="none" stroke="#8c8d95" stroke-width="1.3"/>
<path d="M1471.6 33.2V31.4Q1471.6 28.8 1474.3 28.8H1479.7Q1482.4 28.8 1482.4 31.4V33.2Z" fill="none" stroke="#8c8d95" stroke-width="1.3" stroke-linejoin="round"/>
<g transform="translate(1594.5 27.6) scale(0.93) translate(-12 -12)" fill="none" stroke="#7b7c85" stroke-width="1.75" stroke-linecap="round" stroke-linejoin="round"><circle cx="12" cy="12" r="9"/><path d="M3.6 9h16.8M3.6 15h16.8M11.5 3a17 17 0 0 0 0 18M12.5 3a17 17 0 0 1 0 18"/></g>
<g fill="none" stroke="#7b7c85" stroke-width="1.4" stroke-linejoin="round" stroke-linecap="round"><path d="M1684 18.5V20.2M1684 24.3V27.6M1684 31.9V36.3"/><path d="M1676.8 20.3H1690.6L1692.5 22L1690.6 23.6H1676.8Z"/><path d="M1691.2 28H1677.6L1675.7 29.7L1677.6 31.4H1691.2Z"/></g>
<g fill="none" stroke="#7b7c85" stroke-width="1.5" stroke-linecap="round" stroke-linejoin="round"><rect x="1715.9" y="24.8" width="16.4" height="5.3" rx="1"/><path d="M1717.3 30.1V35.2Q1717.3 36.2 1718.3 36.2H1729.9Q1730.9 36.2 1730.9 35.2V30.1"/><path d="M1724.1 24.8V36.2"/><path d="M1724.1 24.8C1723 20.3 1719.2 19.6 1719.2 22.3C1719.2 24 1721 24.8 1724.1 24.8C1727.2 24.8 1729 24 1729 22.3C1729 19.6 1725.2 20.3 1724.1 24.8"/></g>
<circle cx="1735.5" cy="18.8" r="8.7" fill="#25ad77"/>
<path d="M1735.6 21.9V15.9M1735.6 15.9L1733.7 17.2" fill="none" stroke="#fff" stroke-width="1.7" stroke-linecap="butt" stroke-linejoin="round"/>
<path d="M1654.8 78.2H1664.2L1659.5 83Z" fill="#8a8a8c"/>
<path d="M1685.97 74.08 L1685.98 71.88 L1690.22 71.88 L1690.23 74.08 L1691.99 75.10 L1693.90 74.00 L1696.02 77.68 L1694.11 78.78 L1694.11 80.82 L1696.02 81.92 L1693.90 85.60 L1691.99 84.50 L1690.23 85.52 L1690.22 87.72 L1685.98 87.72 L1685.97 85.52 L1684.21 84.50 L1682.30 85.60 L1680.18 81.92 L1682.09 80.82 L1682.09 78.78 L1680.18 77.68 L1682.30 74.00 L1684.21 75.10Z" fill="none" stroke="#1c1c21" stroke-width="1.7" stroke-linejoin="round"/>
<circle cx="1688.1" cy="79.8" r="2.6" fill="none" stroke="#1c1c21" stroke-width="1.7"/>
<rect x="1719.6" y="72.3" width="17" height="14.6" rx="1.8" fill="none" stroke="#1c1c21" stroke-width="1.9"/>
<path d="M1728.1 73V86.5" stroke="#1c1c21" stroke-width="1.7"/>
<path d="M1720 72.8H1736.2" stroke="#1c1c21" stroke-width="2.6"/>
<g fill="none" stroke="#1f1f1f" stroke-width="1.35" stroke-linecap="round" stroke-linejoin="round"><path d="M28.6 136H30.8Q31.9 136 32.2 137.2L35.2 148.7H45.6"/><path d="M32.5 138.3H47.2L46 145.4H34.3"/><circle cx="35.3" cy="151" r="1.5"/><circle cx="44.2" cy="151" r="1.5"/></g>
<path d="M1438.3 144H1447.7L1443 149.2Z" fill="#7b7c85"/>
<path d="M1469.87 138.08 L1469.88 135.88 L1474.12 135.88 L1474.13 138.08 L1475.89 139.10 L1477.80 138.00 L1479.92 141.68 L1478.01 142.78 L1478.01 144.82 L1479.92 145.92 L1477.80 149.60 L1475.89 148.50 L1474.13 149.52 L1474.12 151.72 L1469.88 151.72 L1469.87 149.52 L1468.11 148.50 L1466.20 149.60 L1464.08 145.92 L1465.99 144.82 L1465.99 142.78 L1464.08 141.68 L1466.20 138.00 L1468.11 139.10Z" fill="none" stroke="#7b7c85" stroke-width="1.6" stroke-linejoin="round"/>
<circle cx="1472" cy="143.8" r="2.6" fill="none" stroke="#7b7c85" stroke-width="1.6"/>
<g fill="none" stroke="#7b7c85" stroke-width="1.7" stroke-linecap="round" stroke-linejoin="round"><path d="M1506 150.2A8.3 8.3 0 1 0 1505.6 137.9L1503.6 140.8"/><path d="M1503.4 135.2V141.3H1509.5"/></g>
<g fill="none" stroke="#7b7c85" stroke-width="1.6" stroke-linecap="round" stroke-linejoin="round"><path d="M1544.9 138.1H1559.1"/><path d="M1548.6 138V137Q1548.6 135.4 1550.2 135.4H1553.8Q1555.4 135.4 1555.4 137V138"/><path d="M1546.2 138.5L1547 150.6Q1547.1 151.8 1548.3 151.8H1555.7Q1556.9 151.8 1557 150.6L1557.8 138.5"/><path d="M1552 148.6V144"/></g><path d="M1548.4 144.8L1552 141.1L1555.6 144.8Z" fill="#7b7c85" stroke="#7b7c85" stroke-width="0.8" stroke-linejoin="round"/>
<rect x="1583.8" y="136.4" width="16.8" height="14.6" rx="1.5" fill="none" stroke="#7b7c85" stroke-width="1.7"/><path d="M1583.8 137H1600.6" stroke="#7b7c85" stroke-width="2.6"/><path d="M1592 137V151" stroke="#7b7c85" stroke-width="1.6"/>
<rect x="1623.5" y="134.9" width="17" height="17.4" rx="1.6" fill="none" stroke="#7b7c85" stroke-width="1.8"/><rect x="1626" y="137.8" width="5.8" height="6" fill="#7d7e8b"/><rect x="1632" y="144" width="6" height="5.8" fill="#7d7e8b"/>
<g fill="none" stroke="#7b7c85" stroke-width="1.4"><rect x="1664.6" y="137.3" width="15.6" height="13"/><rect x="1666.6" y="139.9" width="7" height="5.4" rx="0.6"/><path d="M1673.6 142.1H1677.2V147.3H1670.3V145.3"/></g>
<circle cx="1664.6" cy="137.3" r="1.3" fill="#fff" stroke="#7b7c85" stroke-width="1.1"/>
<circle cx="1680.2" cy="137.3" r="1.3" fill="#fff" stroke="#7b7c85" stroke-width="1.1"/>
<circle cx="1664.6" cy="150.3" r="1.3" fill="#fff" stroke="#7b7c85" stroke-width="1.1"/>
<circle cx="1680.2" cy="150.3" r="1.3" fill="#fff" stroke="#7b7c85" stroke-width="1.1"/>
<path d="M1703.3 143.7H1720.9M1707.5 139.6L1703.3 143.7L1707.5 147.8M1716.7 139.6L1720.9 143.7L1716.7 147.8" fill="none" stroke="#7b7c85" stroke-width="1.9" stroke-linecap="round" stroke-linejoin="round"/>
<path d="M1752 135.8V147.5M1746.6 142.5L1752 147.6L1757.4 142.5M1745.6 151.3H1758" fill="none" stroke="#7b7c85" stroke-width="1.9" stroke-linecap="round" stroke-linejoin="round"/>
<circle cx="1023.6" cy="191.2" r="1.15" fill="#d3d3d8"/>
<circle cx="1023.6" cy="195.9" r="1.15" fill="#d3d3d8"/>
<circle cx="1023.6" cy="200.6" r="1.15" fill="#d3d3d8"/>
<circle cx="1030.4" cy="191.2" r="1.15" fill="#d3d3d8"/>
<circle cx="1030.4" cy="195.9" r="1.15" fill="#d3d3d8"/>
<circle cx="1030.4" cy="200.6" r="1.15" fill="#d3d3d8"/>
<circle cx="1193.6" cy="191.2" r="1.15" fill="#d3d3d8"/>
<circle cx="1193.6" cy="195.9" r="1.15" fill="#d3d3d8"/>
<circle cx="1193.6" cy="200.6" r="1.15" fill="#d3d3d8"/>
<circle cx="1200.4" cy="191.2" r="1.15" fill="#d3d3d8"/>
<circle cx="1200.4" cy="195.9" r="1.15" fill="#d3d3d8"/>
<circle cx="1200.4" cy="200.6" r="1.15" fill="#d3d3d8"/>
<circle cx="1703.6" cy="191.2" r="1.15" fill="#d3d3d8"/>
<circle cx="1703.6" cy="195.9" r="1.15" fill="#d3d3d8"/>
<circle cx="1703.6" cy="200.6" r="1.15" fill="#d3d3d8"/>
<circle cx="1710.4" cy="191.2" r="1.15" fill="#d3d3d8"/>
<circle cx="1710.4" cy="195.9" r="1.15" fill="#d3d3d8"/>
<circle cx="1710.4" cy="200.6" r="1.15" fill="#d3d3d8"/>
<path d="M173.8 228.2V227.1H164.8L169.6 232L164.8 236.9H173.8V235.8" fill="none" stroke="#b6b7bd" stroke-width="1.9" stroke-linecap="round" stroke-linejoin="round"/>
<circle cx="183.8" cy="226.9" r="1.15" fill="#cdced3"/>
<circle cx="183.8" cy="231.6" r="1.15" fill="#cdced3"/>
<circle cx="183.8" cy="236.3" r="1.15" fill="#cdced3"/>
<path d="M333.8 228.2V227.1H324.8L329.6 232L324.8 236.9H333.8V235.8" fill="none" stroke="#b6b7bd" stroke-width="1.9" stroke-linecap="round" stroke-linejoin="round"/>
<circle cx="343.8" cy="226.9" r="1.15" fill="#cdced3"/>
<circle cx="343.8" cy="231.6" r="1.15" fill="#cdced3"/>
<circle cx="343.8" cy="236.3" r="1.15" fill="#cdced3"/>
<path d="M503.8 228.2V227.1H494.8L499.6 232L494.8 236.9H503.8V235.8" fill="none" stroke="#b6b7bd" stroke-width="1.9" stroke-linecap="round" stroke-linejoin="round"/>
<circle cx="513.8" cy="226.9" r="1.15" fill="#cdced3"/>
<circle cx="513.8" cy="231.6" r="1.15" fill="#cdced3"/>
<circle cx="513.8" cy="236.3" r="1.15" fill="#cdced3"/>
<path d="M673.8 228.2V227.1H664.8L669.6 232L664.8 236.9H673.8V235.8" fill="none" stroke="#b6b7bd" stroke-width="1.9" stroke-linecap="round" stroke-linejoin="round"/>
<circle cx="683.8" cy="226.9" r="1.15" fill="#cdced3"/>
<circle cx="683.8" cy="231.6" r="1.15" fill="#cdced3"/>
<circle cx="683.8" cy="236.3" r="1.15" fill="#cdced3"/>
<path d="M843.8 228.2V227.1H834.8L839.6 232L834.8 236.9H843.8V235.8" fill="none" stroke="#b6b7bd" stroke-width="1.9" stroke-linecap="round" stroke-linejoin="round"/>
<circle cx="853.8" cy="226.9" r="1.15" fill="#cdced3"/>
<circle cx="853.8" cy="231.6" r="1.15" fill="#cdced3"/>
<circle cx="853.8" cy="236.3" r="1.15" fill="#cdced3"/>
<path d="M1013.8 228.2V227.1H1004.8L1009.6 232L1004.8 236.9H1013.8V235.8" fill="none" stroke="#b6b7bd" stroke-width="1.9" stroke-linecap="round" stroke-linejoin="round"/>
<circle cx="1023.8" cy="226.9" r="1.15" fill="#cdced3"/>
<circle cx="1023.8" cy="231.6" r="1.15" fill="#cdced3"/>
<circle cx="1023.8" cy="236.3" r="1.15" fill="#cdced3"/>
<path d="M1183.8 228.2V227.1H1174.8L1179.6 232L1174.8 236.9H1183.8V235.8" fill="none" stroke="#b6b7bd" stroke-width="1.9" stroke-linecap="round" stroke-linejoin="round"/>
<circle cx="1193.8" cy="226.9" r="1.15" fill="#cdced3"/>
<circle cx="1193.8" cy="231.6" r="1.15" fill="#cdced3"/>
<circle cx="1193.8" cy="236.3" r="1.15" fill="#cdced3"/>
<path d="M1353.8 228.2V227.1H1344.8L1349.6 232L1344.8 236.9H1353.8V235.8" fill="none" stroke="#b6b7bd" stroke-width="1.9" stroke-linecap="round" stroke-linejoin="round"/>
<circle cx="1363.8" cy="226.9" r="1.15" fill="#cdced3"/>
<circle cx="1363.8" cy="231.6" r="1.15" fill="#cdced3"/>
<circle cx="1363.8" cy="236.3" r="1.15" fill="#cdced3"/>
<path d="M1523.8 228.2V227.1H1514.8L1519.6 232L1514.8 236.9H1523.8V235.8" fill="none" stroke="#b6b7bd" stroke-width="1.9" stroke-linecap="round" stroke-linejoin="round"/>
<circle cx="1533.8" cy="226.9" r="1.15" fill="#cdced3"/>
<circle cx="1533.8" cy="231.6" r="1.15" fill="#cdced3"/>
<circle cx="1533.8" cy="236.3" r="1.15" fill="#cdced3"/>
<path d="M1693.8 228.2V227.1H1684.8L1689.6 232L1684.8 236.9H1693.8V235.8" fill="none" stroke="#b6b7bd" stroke-width="1.9" stroke-linecap="round" stroke-linejoin="round"/>
<circle cx="1703.8" cy="226.9" r="1.15" fill="#cdced3"/>
<circle cx="1703.8" cy="231.6" r="1.15" fill="#cdced3"/>
<circle cx="1703.8" cy="236.3" r="1.15" fill="#cdced3"/>
<path d="M1334 238V226.3M1328.3 231.8L1334 226.1L1339.7 231.8" fill="none" stroke="#4b55c8" stroke-width="1.9" stroke-linecap="round" stroke-linejoin="round"/>
<path transform="translate(21.4 269.4)" d="M1.1 1.1H14.1Q15.2 1.1 14.5 2.1L9.8 7.1Q9.1 7.8 9.1 8.8V14.1Q9.1 15.4 7.8 15.4Q6.5 15.4 6.5 14.1V8.8Q6.5 7.8 5.8 7.1L1.1 2.1Q0.4 1.1 1.1 1.1Z" fill="none" stroke="#b6b7bd" stroke-width="1.35" stroke-linejoin="round"/>
<circle cx="54.0" cy="274.9" r="4.3" fill="none" stroke="#5f5f63" stroke-width="1.2"/><path d="M57.3 278.6L60.4 281.6" stroke="#5f5f63" stroke-width="1.4" stroke-linecap="round"/>
<path d="M199.0 275.5H211.0M199.0 280.5H211.0" stroke="#b6b7bd" stroke-width="1.8"/>
<path transform="translate(357.4 269.4)" d="M1.1 1.1H14.1Q15.2 1.1 14.5 2.1L9.8 7.1Q9.1 7.8 9.1 8.8V14.1Q9.1 15.4 7.8 15.4Q6.5 15.4 6.5 14.1V8.8Q6.5 7.8 5.8 7.1L1.1 2.1Q0.4 1.1 1.1 1.1Z" fill="none" stroke="#b6b7bd" stroke-width="1.35" stroke-linejoin="round"/>
<circle cx="390.0" cy="274.9" r="4.3" fill="none" stroke="#5f5f63" stroke-width="1.2"/><path d="M393.3 278.6L396.4 281.6" stroke="#5f5f63" stroke-width="1.4" stroke-linecap="round"/>
<path transform="translate(527.3 269.4)" d="M1.1 1.1H14.1Q15.2 1.1 14.5 2.1L9.8 7.1Q9.1 7.8 9.1 8.8V14.1Q9.1 15.4 7.8 15.4Q6.5 15.4 6.5 14.1V8.8Q6.5 7.8 5.8 7.1L1.1 2.1Q0.4 1.1 1.1 1.1Z" fill="none" stroke="#5b60c9" stroke-width="1.35" stroke-linejoin="round"/>
<path d="M665.6 274.2L672.6 281.2M672.6 274.2L665.6 281.2" stroke="#2b2b2f" stroke-width="1.7" stroke-linecap="round"/>
<path d="M699.0 275.5H711.0M699.0 280.5H711.0" stroke="#b6b7bd" stroke-width="1.8"/>
<path d="M869.0 275.5H881.0M869.0 280.5H881.0" stroke="#b6b7bd" stroke-width="1.8"/>
<path transform="translate(1037.4 269.4)" d="M1.1 1.1H14.1Q15.2 1.1 14.5 2.1L9.8 7.1Q9.1 7.8 9.1 8.8V14.1Q9.1 15.4 7.8 15.4Q6.5 15.4 6.5 14.1V8.8Q6.5 7.8 5.8 7.1L1.1 2.1Q0.4 1.1 1.1 1.1Z" fill="none" stroke="#b6b7bd" stroke-width="1.35" stroke-linejoin="round"/>
<path d="M1209.0 275.5H1221.0M1209.0 280.5H1221.0" stroke="#b6b7bd" stroke-width="1.8"/>
<path d="M1379.0 275.5H1391.0M1379.0 280.5H1391.0" stroke="#b6b7bd" stroke-width="1.8"/>
<path transform="translate(1547.4 269.4)" d="M1.1 1.1H14.1Q15.2 1.1 14.5 2.1L9.8 7.1Q9.1 7.8 9.1 8.8V14.1Q9.1 15.4 7.8 15.4Q6.5 15.4 6.5 14.1V8.8Q6.5 7.8 5.8 7.1L1.1 2.1Q0.4 1.1 1.1 1.1Z" fill="none" stroke="#b6b7bd" stroke-width="1.35" stroke-linejoin="round"/>
<circle cx="1580.0" cy="274.9" r="4.3" fill="none" stroke="#5f5f63" stroke-width="1.2"/><path d="M1583.3 278.6L1586.4 281.6" stroke="#5f5f63" stroke-width="1.4" stroke-linecap="round"/>
</svg>
</body></html>
